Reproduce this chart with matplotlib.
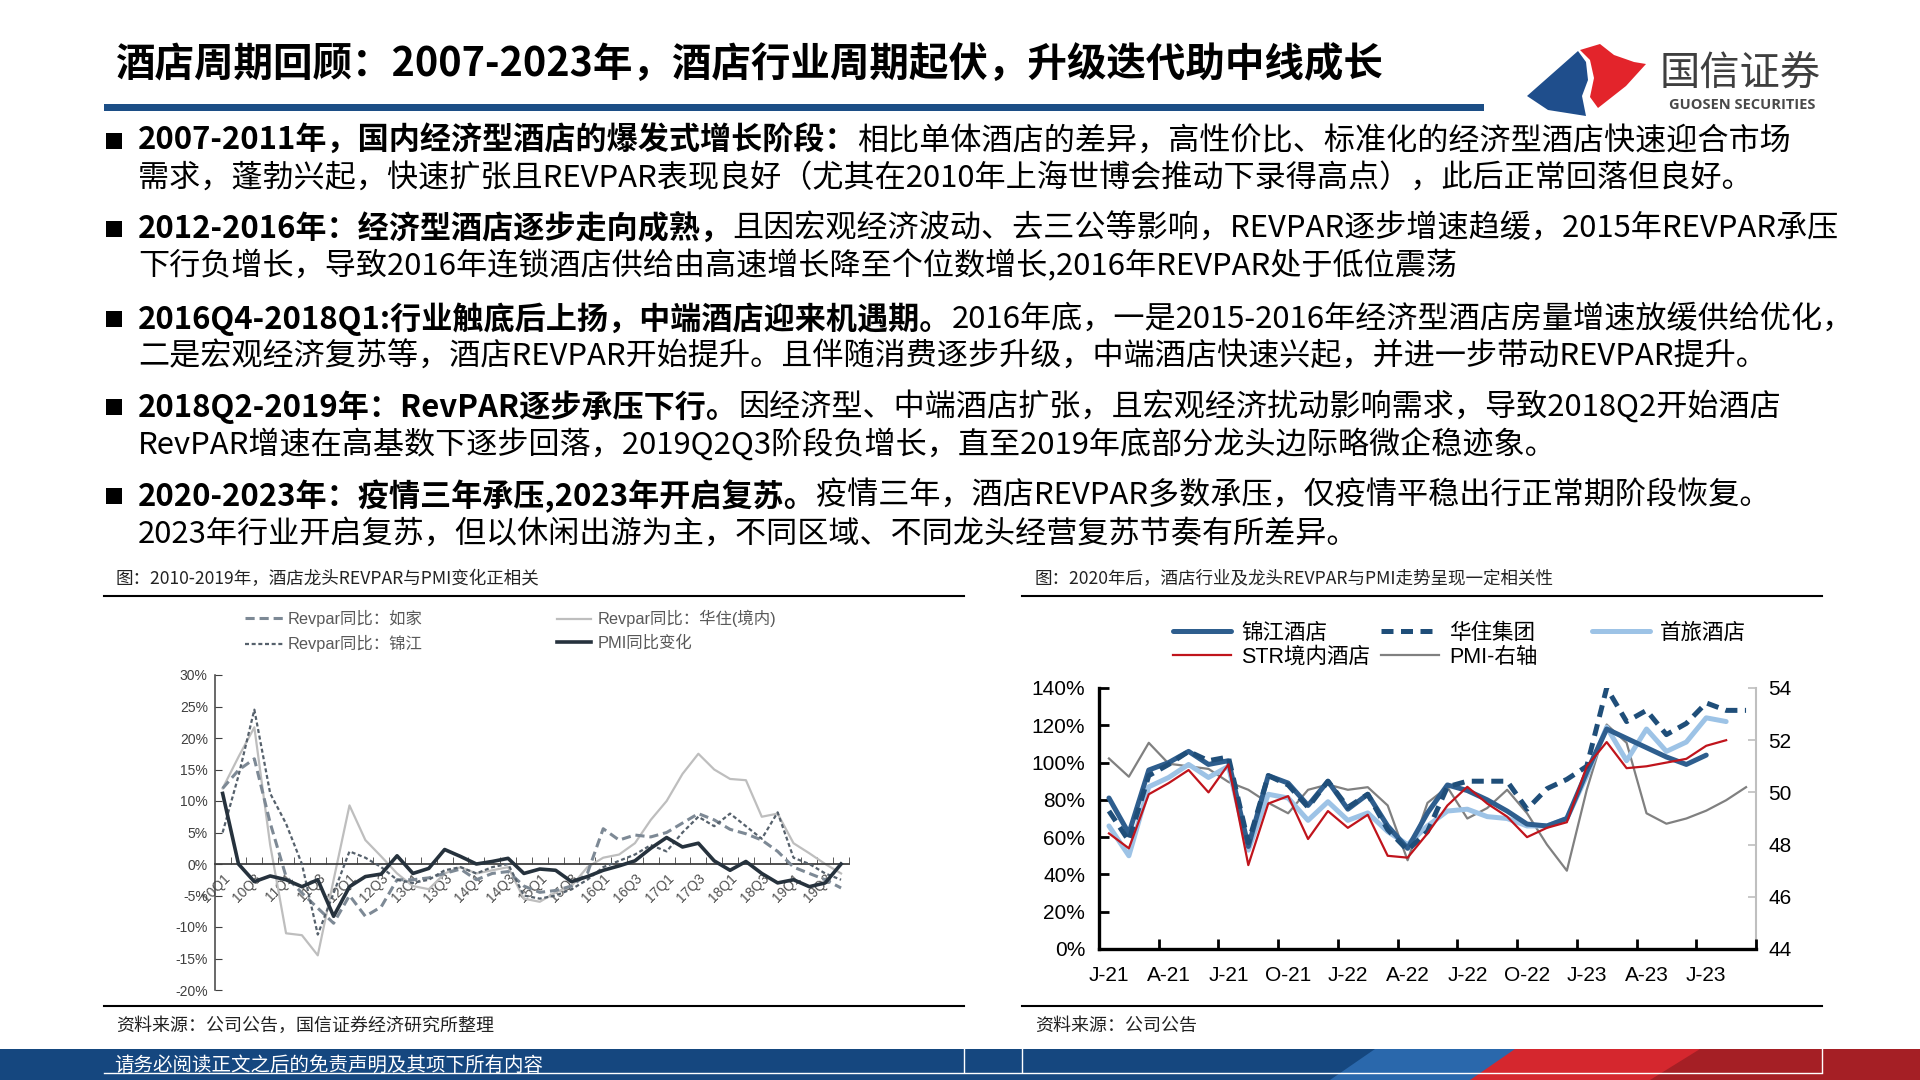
import matplotlib
matplotlib.use('Agg')
import matplotlib.pyplot as plt
from matplotlib.patches import Rectangle, Polygon
import numpy as np

plt.rcParams['font.family'] = ['Noto Sans CJK SC', 'DejaVu Sans']
plt.rcParams['axes.unicode_minus'] = False

# ---------------- data: left chart (quarterly, 2010Q1-2019Q4, YoY %) ----------------
quarters = [f"{y}Q{q}" for y in range(10, 20) for q in range(1, 5)]
rujia_l = [12, 14.9, 16.7, 6.5, -2, -4.6, -7, -9.4, -5, -8.3, -6.8, -2.5, -2.5, -2.2, -1.5, -0.8,
           -2.5, -1.5, -1.2, -3.5, -4.5, -4.2, -3.5, -1.5, 5.6, 3.8, 4.6, 4.3, 5, 6.5, 8, 7,
           5.5, 4.8, 3.8, 2, -0.5, -1.5, -2.5, -3.8]
jinjiang_l = [5, 14, 24.5, 11.2, 6.4, 0, -11.2, -4.6, 2, 1, -0.5, -2.5, -3, -2.5, -1, -0.5,
              -1.5, -0.5, 0, -5, -5.5, -5, -4, -2.5, -0.5, 0.5, 1.5, 3, 2, 5, 7.5, 6,
              8, 6, 4, 8.2, 1, 0, -1.5, -2.5]
huazhu_l = [12, 17, 21.7, 3, -11, -11.3, -14.5, -2.5, 9.3, 3.8, 1.2, -1.5, -3.5, -4, -1.5, -0.5,
            -1.5, -1, -0.5, -5.5, -6, -4.5, -3.5, -0.5, 1, 1.5, 3.3, 7, 10, 14.3, 17.5, 15,
            13.5, 13.3, 7.5, 8, 3.3, 1.7, 0, -1.5]
pmi_l = [11.2, 0.0, -2.8, -1.9, -2.5, -3.6, -2.5, -8.3, -3.6, -2.0, -1.6, 1.3, -1.5, -0.7, 2.3, 1.2,
         0.0, 0.4, 0.9, -1.5, -0.8, -1.0, -2.8, -2.0, -1.0, -0.3, 0.5, 2.5, 4.2, 2.7, 3.3, 0.5,
         -1.0, 0.4, -1.5, -3.0, -2.5, -3.6, -3.0, 0.0]
left_names = ["Revpar同比：如家", "Revpar同比：锦江", "Revpar同比：华住(境内)", "PMI同比变化"]

# ---------------- data: right chart (monthly, 2021-01 .. 2023-09) ----------------
month_ticks = ["J-21", "A-21", "J-21", "O-21", "J-22", "A-22", "J-22", "O-22", "J-23", "A-23", "J-23"]
jinjiang_r = [81, 62, 96, 100, 106, 99, 101, 55, 93, 89, 77, 90, 75, 83, 66, 54, 73, 88, 85, 80,
              74, 67, 66, 70, 95, 118, 113, 108, 103, 99, 104]
huazhu_r = [74, 58, 93, 99, 106, 101, 103, 57, 93, 88, 76, 90, 76, 83, 64, 53, 63, 87, 90, 90,
            90, 75, 86, 91, 98, 140, 122, 128, 115, 121, 132, 128, 128]
shouqi_r = [66, 50, 87, 92, 99, 92, 98, 53, 83, 81, 69, 79, 69, 73, 63, 56, 66, 74, 75, 71,
            70, 66, 66, 70, 93, 119, 101, 118, 106, 111, 124, 122]
str_r = [62, 54, 83, 89, 96, 84, 99, 45, 78, 82, 59, 74, 65, 72, 50, 49, 62, 77, 87, 78,
         71, 60, 65, 68, 98, 111, 97, 98, 100, 102, 109, 112]
pmi_r = [51.3, 50.6, 51.9, 51.1, 51.0, 50.9, 50.4, 50.1, 49.6, 49.2, 50.1, 50.3, 50.1, 50.2, 49.5,
         47.4, 49.6, 50.2, 49.0, 49.4, 50.1, 49.2, 48.0, 47.0, 50.1, 52.6, 51.9, 49.2, 48.8, 49.0,
         49.3, 49.7, 50.2]
right_names = ["锦江酒店", "华住集团", "首旅酒店", "STR境内酒店", "PMI-右轴"]

# ---------------- text content ----------------
title = "酒店周期回顾：2007-2023年，酒店行业周期起伏，升级迭代助中线成长"
bullets = [
    ("2007-2011年，国内经济型酒店的爆发式增长阶段：",
     "相比单体酒店的差异，高性价比、标准化的经济型酒店快速迎合市场",
     "需求，蓬勃兴起，快速扩张且REVPAR表现良好（尤其在2010年上海世博会推动下录得高点），此后正常回落但良好。"),
    ("2012-2016年：经济型酒店逐步走向成熟，",
     "且因宏观经济波动、去三公等影响，REVPAR逐步增速趋缓，2015年REVPAR承压",
     "下行负增长，导致2016年连锁酒店供给由高速增长降至个位数增长,2016年REVPAR处于低位震荡"),
    ("2016Q4-2018Q1:行业触底后上扬，中端酒店迎来机遇期。",
     "2016年底，一是2015-2016年经济型酒店房量增速放缓供给优化，",
     "二是宏观经济复苏等，酒店REVPAR开始提升。且伴随消费逐步升级，中端酒店快速兴起，并进一步带动REVPAR提升。"),
    ("2018Q2-2019年：RevPAR逐步承压下行。",
     "因经济型、中端酒店扩张，且宏观经济扰动影响需求，导致2018Q2开始酒店",
     "RevPAR增速在高基数下逐步回落，2019Q2Q3阶段负增长，直至2019年底部分龙头边际略微企稳迹象。"),
    ("2020-2023年：疫情三年承压,2023年开启复苏。",
     "疫情三年，酒店REVPAR多数承压，仅疫情平稳出行正常期阶段恢复。",
     "2023年行业开启复苏，但以休闲出游为主，不同区域、不同龙头经营复苏节奏有所差异。"),
]
left_head = "图：2010-2019年，酒店龙头REVPAR与PMI变化正相关"
right_head = "图：2020年后，酒店行业及龙头REVPAR与PMI走势呈现一定相关性"
left_src = "资料来源：公司公告，国信证券经济研究所整理"
right_src = "资料来源：公司公告"
footer = "请务必阅读正文之后的免责声明及其项下所有内容"

# ---------------- figure ----------------
W, H = 1920, 1080
fig = plt.figure(figsize=(19.2, 10.8), dpi=100)
fig.patch.set_facecolor('white')
ov = fig.add_axes([0, 0, 1, 1])
ov.set_xlim(0, W)
ov.set_ylim(H, 0)
ov.axis('off')
renderer = fig.canvas.get_renderer()


def ink_w(s, size, **kw):
    t = ov.text(0, 0, s, fontsize=size, **kw)
    w = t.get_window_extent(renderer).width
    t.remove()
    return w


def adv_w(s, size, **kw):
    return ink_w(s + '一', size, **kw) - ink_w('一', size, **kw)


def px_axes(x0, y0, x1, y1):
    return fig.add_axes([x0 / W, 1 - y1 / H, (x1 - x0) / W, (y1 - y0) / H])


# title
ts = 30 * 1268 / ink_w(title, 30, fontweight='bold')
ov.text(115, 64, title, fontsize=ts, fontweight='bold', va='center', ha='left', color='black')
ov.add_patch(Rectangle((104, 104), 1380, 6.5, color='#1C4E86', lw=0))

# logo
ov.add_patch(Polygon([(1527, 96), (1578, 51), (1586, 62), (1588, 80), (1582, 96), (1586, 116), (1548, 110)],
                     closed=True, color='#1F4E8C', lw=0))
ov.add_patch(Polygon([(1580, 50), (1600, 44), (1614, 55), (1634, 62), (1646, 64), (1626, 86), (1598, 108),
                      (1590, 97), (1594, 78), (1590, 60)], closed=True, color='#E3242B', lw=0))
ov.text(1740, 73, "国信证券", fontsize=29, ha='center', va='center', color='#3F3F3F')
ov.text(1742, 105, "GUOSEN SECURITIES", fontsize=10.5, fontweight='bold', ha='center', va='center',
        color='#4A4A4A', family=['Open Sans', 'DejaVu Sans'])

# bullets
bx = 138
row_y = [(141, 178), (229, 266), (319, 357), (407, 445), (496, 534)]
right_edges = [1837, 1837, 1853, 1837, 1826]
s0 = 22
bs = 100
for (bold, rest1, _), re in zip(bullets, right_edges):
    w0 = adv_w(bold, s0, fontweight='bold') + ink_w(rest1, s0)
    bs = min(bs, s0 * (re - bx) / w0)
for (bold, rest1, rest2), (y1, y2) in zip(bullets, row_y):
    ov.add_patch(Rectangle((106, y1 - 8), 16, 16, color='black', lw=0))
    ov.text(bx, y1, bold, fontsize=bs, fontweight='bold', va='center', ha='left')
    x2 = bx + adv_w(bold, bs, fontweight='bold')
    ov.text(x2, y1, rest1, fontsize=bs, va='center', ha='left')
    ov.text(bx, y2, rest2, fontsize=bs, va='center', ha='left')

# chart headers / sources
hs = 13 * 425 / ink_w(left_head, 13)
ov.text(116, 579, left_head, fontsize=hs, va='center', color='#222222')
ov.text(1035, 579, right_head, fontsize=hs, va='center', color='#222222')
ov.plot([104, 964], [596, 596], color='black', lw=1.5)
ov.plot([1022, 1822], [596, 596], color='black', lw=1.5)
ov.plot([104, 964], [1006, 1006], color='black', lw=1.5)
ov.plot([1022, 1822], [1006, 1006], color='black', lw=1.5)
ss = 13 * 377 / ink_w(left_src, 13)
ov.text(116, 1026, left_src, fontsize=ss, va='center', color='#222222')
ov.text(1035, 1026, right_src, fontsize=ss, va='center', color='#222222')

# footer band
ov.add_patch(Rectangle((0, 1049), W, 31, color='#15477F', lw=0))
ov.add_patch(Polygon([(1330, 1080), (1375, 1049), (1530, 1049), (1485, 1080)], closed=True,
                     color='#2A68AC', lw=0))
ov.add_patch(Polygon([(1470, 1080), (1515, 1049), (1920, 1049), (1920, 1080)], closed=True,
                     color='#D5272E', lw=0))
ov.add_patch(Polygon([(1650, 1080), (1700, 1049), (1920, 1049), (1920, 1080)], closed=True,
                     color='#A51F25', lw=0))
for xv in (964, 1022, 1822):
    ov.plot([xv, xv], [1049, 1072], color='white', lw=1)
ov.plot([104, 1822], [1073, 1073], color='white', lw=1)
ov.text(114, 1065, footer, fontsize=14, color='white', va='center')

# ---------------- left chart ----------------
lat = ['Liberation Sans', 'Noto Sans CJK SC']
ax1 = px_axes(214.7, 675, 849, 990)
ax1.patch.set_alpha(0)
xq = np.arange(len(quarters))
l_huazhu, = ax1.plot(xq, huazhu_l, color='#BEBEBE', lw=1.6, zorder=2)
l_rujia, = ax1.plot(xq, rujia_l, color='#7D8995', lw=2.2, ls=(0, (3, 1.6)), zorder=3)
l_jinjiang, = ax1.plot(xq, jinjiang_l, color='#56616C', lw=1.6, ls=(0, (1.8, 1.2)), zorder=3)
l_pmi, = ax1.plot(xq, pmi_l, color='#26323D', lw=2.6, zorder=4, solid_joinstyle='round')
ax1.set_xlim(-0.5, 39.5)
ax1.set_ylim(-20, 30)
for sp in ('top', 'right'):
    ax1.spines[sp].set_visible(False)
ax1.spines['bottom'].set_position(('data', 0))
ax1.spines['bottom'].set_color('#404040')
ax1.spines['left'].set_color('#404040')
ax1.spines['bottom'].set_linewidth(1.3)
ax1.spines['left'].set_linewidth(1.1)
ax1.set_yticks(np.arange(-20, 31, 5))
ax1.set_yticklabels([f"{v}%" for v in range(-20, 31, 5)])
ax1.tick_params(axis='y', direction='in', length=5, color='#404040', labelsize=10,
                labelcolor='#404040', pad=5)
ax1.set_xticks(xq[::2])
ax1.set_xticklabels(quarters[::2])
ax1.set_xticks(np.arange(0.5, 39.6, 1), minor=True)
ax1.tick_params(axis='x', which='major', length=0, labelsize=10, labelcolor='#505050', pad=5)
ax1.tick_params(axis='x', which='minor', direction='in', length=5, color='#404040')
for lab in ax1.get_xticklabels():
    lab.set_rotation(45)
    lab.set_ha('right')
    lab.set_rotation_mode('anchor')
for lab in ax1.get_xticklabels() + ax1.get_yticklabels():
    lab.set_family(lat)

lp = {'family': lat, 'size': 11.8}
legA = ax1.legend([l_rujia, l_jinjiang], left_names[:2], loc='upper left',
                  bbox_to_anchor=(245 / W, 1 - 610 / H), bbox_transform=fig.transFigure,
                  frameon=False, borderpad=0, borderaxespad=0, handlelength=2.3, handletextpad=0.3,
                  labelspacing=0.5, prop=lp, labelcolor='#595959')
ax1.add_artist(legA)
legB = ax1.legend([l_huazhu, l_pmi], left_names[2:], loc='upper left',
                  bbox_to_anchor=(557 / W, 1 - 610 / H), bbox_transform=fig.transFigure,
                  frameon=False, borderpad=0, borderaxespad=0, handlelength=2.1, handletextpad=0.35,
                  labelspacing=0.5, prop=lp, labelcolor='#595959')

# ---------------- right chart ----------------
ax2 = px_axes(1099, 688, 1756, 949)
ax2.patch.set_alpha(0)
ax2r = ax2.twinx()
ax2r.patch.set_alpha(0)
l_sq, = ax2.plot(np.arange(len(shouqi_r)), shouqi_r, color='#9DC3E6', lw=3.6, zorder=2,
                 solid_joinstyle='round', solid_capstyle='round')
l_jj, = ax2.plot(np.arange(len(jinjiang_r)), jinjiang_r, color='#2E5E8E', lw=3.6, zorder=3,
                 solid_joinstyle='round', solid_capstyle='round')
l_hz, = ax2.plot(np.arange(len(huazhu_r)), huazhu_r, color='#1F4E79', lw=3.6, ls=(0, (2.4, 1.5)),
                 zorder=4, dash_joinstyle='round')
l_str, = ax2.plot(np.arange(len(str_r)), str_r, color='#C0141C', lw=1.6, zorder=5)
l_pmir, = ax2r.plot(np.arange(len(pmi_r)), pmi_r, color='#808080', lw=1.6, zorder=1)
ax2.set_zorder(ax2r.get_zorder() + 1)
ax2.set_xlim(-0.5, 32.5)
ax2.set_ylim(0, 140)
ax2r.set_ylim(44, 54)
ax2.set_yticks(np.arange(0, 141, 20))
ax2.set_yticklabels([f"{v}%" for v in range(0, 141, 20)])
ax2r.set_yticks(np.arange(44, 55, 2))
ax2.set_xticks(np.arange(-0.5, 33, 3))
ax2.set_xticklabels([])
ax2.set_xticks(np.arange(0, 33, 3), minor=True)
ax2.set_xticklabels(month_ticks, minor=True)
ax2.tick_params(axis='x', which='minor', length=0, labelsize=15, pad=12)
ax2.tick_params(axis='x', which='major', direction='in', length=7, width=2, color='black')
ax2.tick_params(axis='y', direction='in', length=7, width=2, labelsize=15, pad=10)
ax2r.tick_params(axis='y', direction='in', length=6, width=1.2, color='#BFBFBF', labelsize=15, pad=9)
for sp in ('top',):
    ax2.spines[sp].set_visible(False)
    ax2r.spines[sp].set_visible(False)
ax2.spines['right'].set_visible(False)
ax2r.spines['left'].set_visible(False)
ax2r.spines['bottom'].set_visible(False)
ax2.spines['left'].set_linewidth(2.4)
ax2.spines['bottom'].set_linewidth(2.4)
ax2r.spines['right'].set_color('#BFBFBF')
ax2r.spines['right'].set_linewidth(1.5)
for lab in ax2.get_xticklabels(minor=True) + ax2.get_yticklabels() + ax2r.get_yticklabels():
    lab.set_family(lat)

rp = {'family': lat, 'size': 15.5}
cols = [([l_jj, l_str], [right_names[0], right_names[3]], 1173),
        ([l_hz, l_pmir], [right_names[1], right_names[4]], 1381),
        ([l_sq], [right_names[2]], 1592)]
for i, (hs_, ls_, xl) in enumerate(cols):
    lg = ax2.legend(hs_, ls_, loc='upper left', bbox_to_anchor=(xl / W, 1 - 623 / H),
                    bbox_transform=fig.transFigure, frameon=False, borderpad=0, borderaxespad=0,
                    handlelength=2.7, handletextpad=0.45, labelspacing=0.12, prop=rp)
    if i < len(cols) - 1:
        ax2.add_artist(lg)

fig.savefig('out.png', dpi=100, facecolor='white')
